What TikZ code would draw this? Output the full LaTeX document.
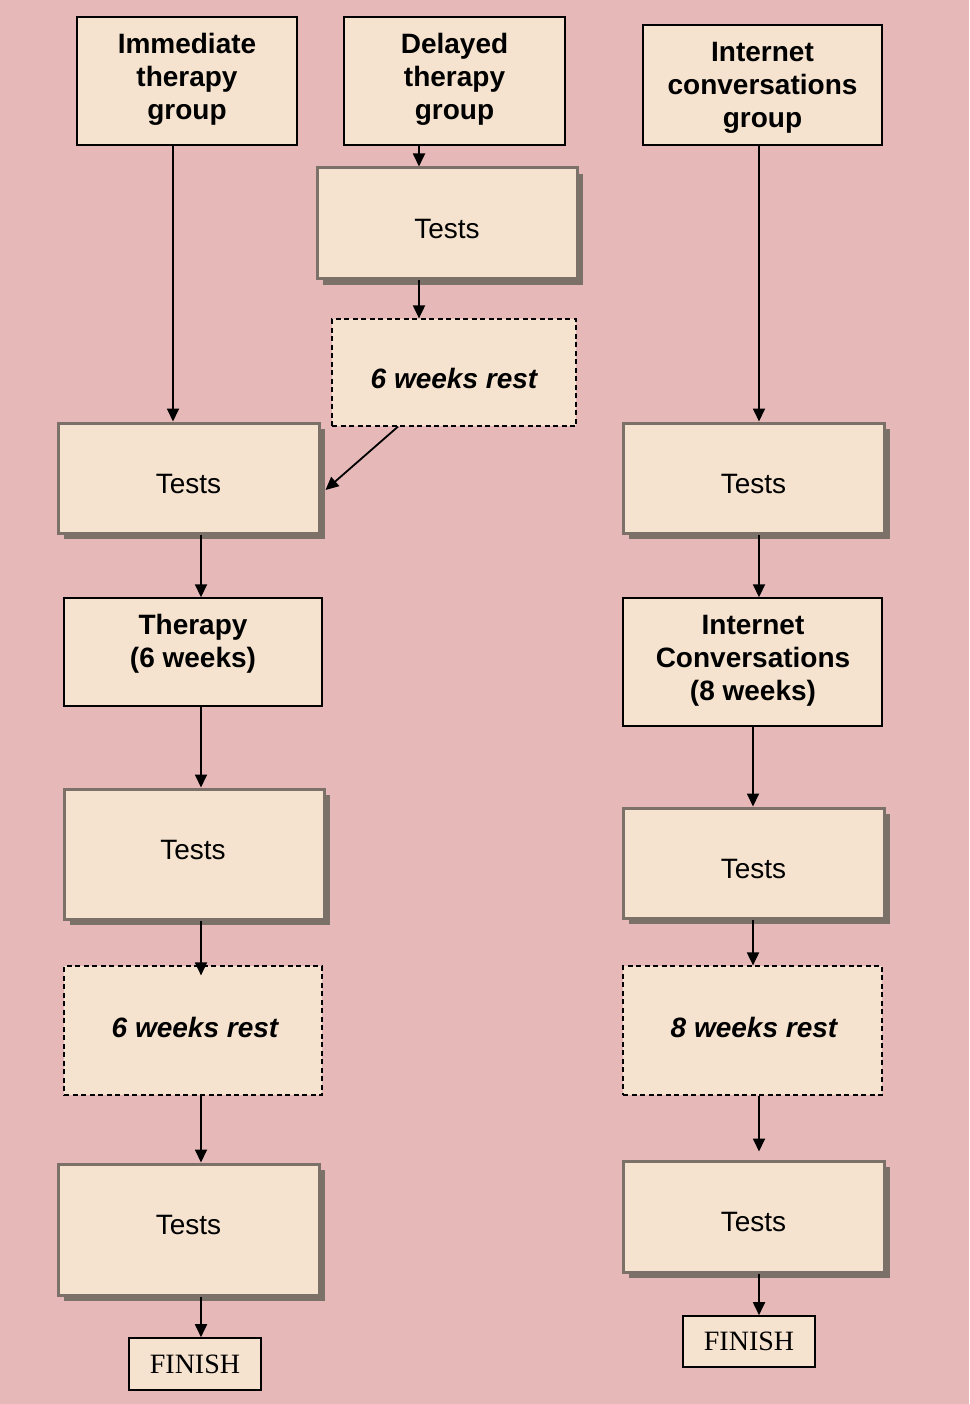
\documentclass[tikz,border=0pt]{standalone}
\usepackage{fontspec}
\setmainfont{Liberation Sans}
\newfontfamily\timesfont{Liberation Serif}
\usetikzlibrary{arrows.meta,shadows}
\definecolor{bgpink}{HTML}{E6B8B8}
\definecolor{boxfill}{HTML}{F5E3CF}
\definecolor{graybord}{HTML}{7B7169}
\tikzset{
  plainbox/.style={draw=black,line width=1.4pt,fill=boxfill,inner sep=0pt,align=center,
    font=\fontsize{28}{33}\selectfont\bfseries},
  testbox/.style={draw=graybord,line width=3pt,fill=boxfill,inner sep=0pt,
    drop shadow={shadow xshift=6pt,shadow yshift=-6pt,fill=graybord,opacity=1},
    font=\fontsize{28}{33}\selectfont},
  restbox/.style={draw=black,line width=1.2pt,dash pattern=on 5pt off 3.5pt,fill=boxfill,inner sep=0pt,
    font=\fontsize{28}{33}\selectfont\bfseries\itshape},
  finbox/.style={draw=black,line width=1.6pt,fill=boxfill,inner sep=0pt,
    font=\fontsize{28}{33}\selectfont\timesfont},
  txt/.style={align=center,inner sep=0pt},
  arr/.style={draw=black,line width=1.8pt,-{Triangle[length=13pt,width=12pt]}},
}
\begin{document}
\begin{tikzpicture}[x=1pt,y=-1pt]
\useasboundingbox (0,0) rectangle (969,1404);
\fill[bgpink] (0,0) rectangle (969,1404);
% top group boxes
\node[plainbox,minimum width=220,minimum height=128] (imm) at (187,81) {};
\node[txt,font=\fontsize{28}{33}\selectfont\bfseries] (immt) at (187,79) {Immediate\\therapy\\group};
\node[plainbox,minimum width=221,minimum height=128] (del) at (454.5,81) {};
\node[txt,font=\fontsize{28}{33}\selectfont\bfseries] (delt) at (454.5,79) {Delayed\\therapy\\group};
\node[plainbox,minimum width=239,minimum height=120] (inet) at (762.5,85) {};
\node[txt,font=\fontsize{28}{33}\selectfont\bfseries] (inett) at (762.5,88) {Internet\\conversations\\group};
% delayed column
\node[testbox,minimum width=260,minimum height=111] (tD) at (447,223.5) {};
\node[txt,font=\fontsize{28}{33}\selectfont] (tDt) at (447,229) {Tests};
\node[restbox,minimum width=244,minimum height=107] (restT) at (454,372.5) {};
\node[txt,font=\fontsize{28}{33}\selectfont\bfseries\itshape] (restTt) at (454,378) {6 weeks rest};
% left column
\node[testbox,minimum width=261,minimum height=110] (tL1) at (188.5,478) {};
\node[txt,font=\fontsize{28}{33}\selectfont] (tL1t) at (188.5,484) {Tests};
\node[plainbox,minimum width=258,minimum height=108] (ther) at (193,652) {};
\node[txt,font=\fontsize{28}{33}\selectfont\bfseries] (thert) at (193,644) {Therapy\\(6 weeks)};
\node[testbox,minimum width=260,minimum height=130] (tL2) at (194,854) {};
\node[txt,font=\fontsize{28}{33}\selectfont] (tL2t) at (193,850) {Tests};
\node[restbox,minimum width=258,minimum height=129] (restL) at (193,1030.5) {};
\node[txt,font=\fontsize{28}{33}\selectfont\bfseries\itshape] (restLt) at (195,1027) {6 weeks rest};
\node[testbox,minimum width=261,minimum height=131] (tL3) at (188.5,1229.5) {};
\node[txt,font=\fontsize{28}{33}\selectfont] (tL3t) at (188.5,1225) {Tests};
\node[finbox,minimum width=132,minimum height=52] (finL) at (195,1364) {FINISH};
% right column
\node[testbox,minimum width=261,minimum height=110] (tR1) at (753.5,478) {};
\node[txt,font=\fontsize{28}{33}\selectfont] (tR1t) at (753.5,484) {Tests};
\node[plainbox,minimum width=259,minimum height=128] (IC) at (752.5,662) {};
\node[txt,font=\fontsize{28}{33}\selectfont\bfseries] (ICt) at (753,661) {Internet\\Conversations\\(8 weeks)};
\node[testbox,minimum width=261,minimum height=110] (tR2) at (753.5,863) {};
\node[txt,font=\fontsize{28}{33}\selectfont] (tR2t) at (753.5,869) {Tests};
\node[restbox,minimum width=259,minimum height=129] (restR) at (752.5,1030.5) {};
\node[txt,font=\fontsize{28}{33}\selectfont\bfseries\itshape] (restRt) at (754,1027) {8 weeks rest};
\node[testbox,minimum width=261,minimum height=111] (tR3) at (753.5,1216.5) {};
\node[txt,font=\fontsize{28}{33}\selectfont] (tR3t) at (753.5,1222) {Tests};
\node[finbox,minimum width=132,minimum height=51] (finR) at (749,1341.5) {FINISH};
% x guides
\coordinate (xA) at (173,0);
\coordinate (xB) at (419,0);
\coordinate (xC) at (201,0);
\coordinate (xD) at (759,0);
\coordinate (xE) at (753,0);
% connectors
\draw[arr] (imm.south -| xA) -- (tL1.north -| xA);
\draw[arr] (del.south -| xB) -- (tD.north -| xB);
\draw[arr] (tD.south -| xB) -- (restT.north -| xB);
\draw[arr] ([xshift=-56pt]restT.south) -- ([shift={(5pt,-12pt)}]tL1.east);
\draw[arr] (inet.south -| xD) -- (tR1.north -| xD);
\draw[arr] (tL1.south -| xC) -- (ther.north -| xC);
\draw[arr] (ther.south -| xC) -- (tL2.north -| xC);
\draw[arr] (tL2.south -| xC) -- ([yshift=-10pt]restL.north -| xC);
\draw[arr] (restL.south -| xC) -- (tL3.north -| xC);
\draw[arr] (tL3.south -| xC) -- (finL.north -| xC);
\draw[arr] (tR1.south -| xD) -- (IC.north -| xD);
\draw[arr] (IC.south -| xE) -- (tR2.north -| xE);
\draw[arr] (tR2.south -| xE) -- (restR.north -| xE);
\draw[arr] (restR.south -| xD) -- ([yshift=8pt]tR3.north -| xD);
\draw[arr] (tR3.south -| xD) -- (finR.north -| xD);
\end{tikzpicture}
\end{document}
